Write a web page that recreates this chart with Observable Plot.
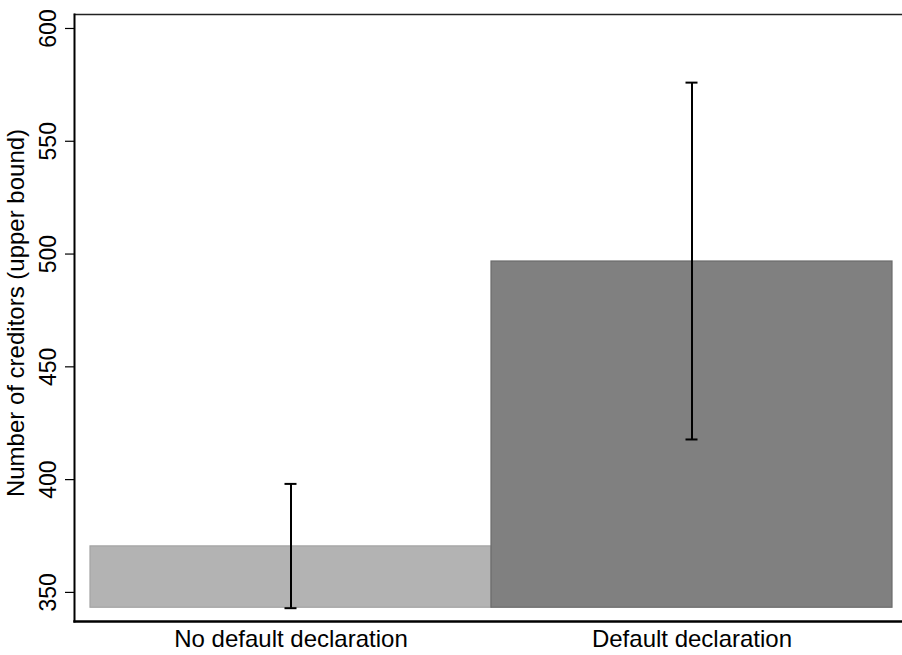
<!DOCTYPE html>
<html>
<head>
<meta charset="utf-8">
<script src="https://cdn.jsdelivr.net/npm/d3@7"></script>
<script src="https://cdn.jsdelivr.net/npm/@observablehq/plot@0.6"></script>
<style>
  html, body { margin: 0; padding: 0; background: #fff; overflow: hidden; }
  #chart { width: 902px; height: 655px; }
  #chart svg { display: block; }
</style>
</head>
<body>
<div id="chart"></div>
<script>
// ---- data ----
const categories = ["No default declaration", "Default declaration"];
const means = [370.4, 496.7];
const ciLow = [343.0, 417.8];
const ciHigh = [398.1, 576.0];
const barBase = 343.2;
const yTicks = [350, 400, 450, 500, 550, 600];
const yDomain = [337.1, 606.2];
const yTitle = "Number of creditors (upper bound)";

const fills = ["#b3b3b3", "#808080"];
const strokes = ["#a3a3a3", "#6b6b6b"];

const data = categories.map((c, i) => ({
  cat: c, mean: means[i], lo: ciLow[i], hi: ciHigh[i], fill: fills[i], stroke: strokes[i]
}));

const font = "'Liberation Sans', Arial, Helvetica, sans-serif";
const shift = 3; // band offset (style)

const chart = Plot.plot({
  width: 902,
  height: 655,
  marginTop: 14,
  marginBottom: 34,
  marginLeft: 74,
  marginRight: 0,
  style: { fontFamily: font, fontSize: "23px", background: "#fff", color: "#000", display: "block" },
  x: { type: "band", domain: categories, paddingInner: 0, paddingOuter: 0.0324 },
  y: { domain: yDomain },
  marks: [
    Plot.barY(data, {
      x: "cat", y1: () => barBase, y2: "mean", dx: shift,
      fill: "fill", stroke: "stroke", strokeWidth: 1.2
    }),
    Plot.ruleX(data, { x: "cat", y1: "lo", y2: "hi", dx: shift, stroke: "#000", strokeWidth: 2 }),
    Plot.tickY(data, { x: "cat", y: "hi", dx: shift, stroke: "#000", strokeWidth: 2, insetLeft: 194.5, insetRight: 194.5 }),
    Plot.tickY(data, { x: "cat", y: "lo", dx: shift, stroke: "#000", strokeWidth: 2, insetLeft: 194.5, insetRight: 194.5 }),
    Plot.frame({ anchor: "top", stroke: "#222", strokeWidth: 1.3 }),
    Plot.frame({ anchor: "left", stroke: "#000", strokeWidth: 2 }),
    Plot.frame({ anchor: "bottom", stroke: "#000", strokeWidth: 2.4 }),
    Plot.axisY({
      ticks: yTicks, tickSize: 9, tickPadding: 10, tickRotate: -90,
      fontSize: 23, label: null, stroke: "#000", strokeWidth: 1.2
    }),
    Plot.axisX({ tickSize: 0, tickPadding: 8, fontSize: 24, label: null, dx: shift }),
    Plot.text([yTitle], {
      text: d => d, frameAnchor: "left", rotate: -90, dx: -51, dy: -5,
      fontSize: 24, lineAnchor: "bottom", textAnchor: "middle", fill: "#000"
    })
  ]
});

document.getElementById("chart").appendChild(chart);
</script>
</body>
</html>
